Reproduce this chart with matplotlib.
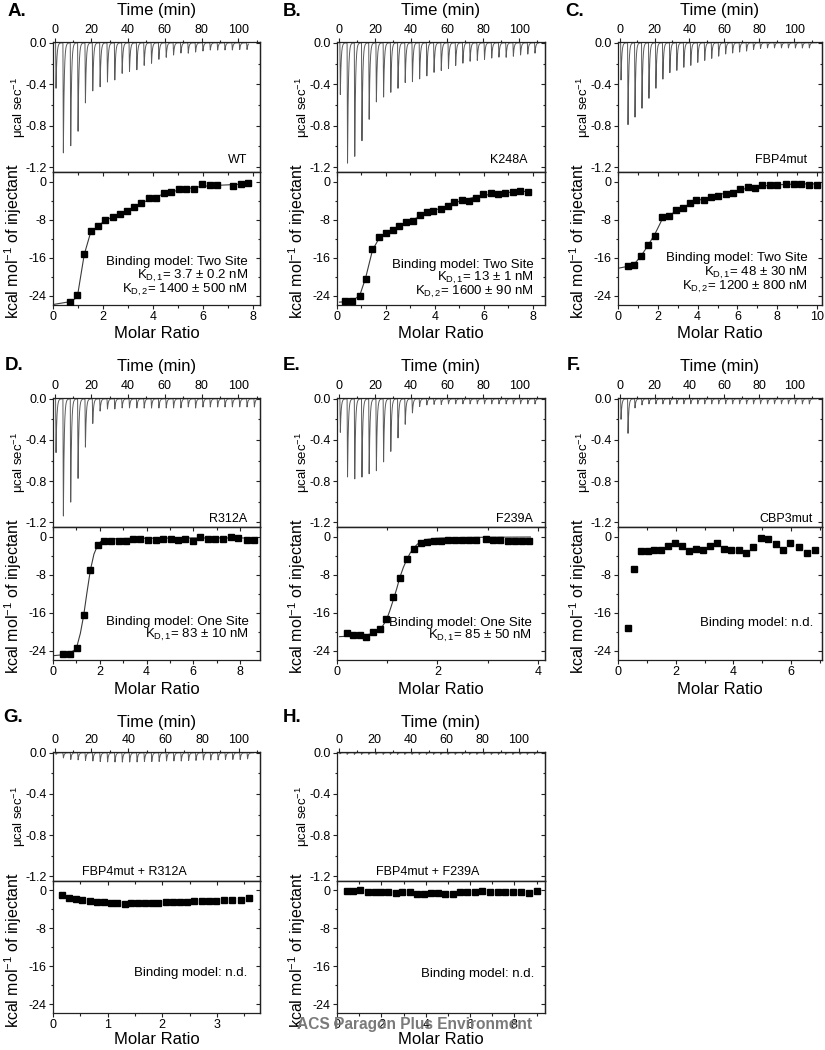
import numpy as np
import matplotlib
matplotlib.use('Agg')
import matplotlib.pyplot as plt
from matplotlib.ticker import MultipleLocator, FormatStrFormatter

plt.rcParams['font.family'] = ['Liberation Sans', 'DejaVu Sans']
plt.rcParams['mathtext.fontset'] = 'custom'
plt.rcParams['mathtext.rm'] = 'Liberation Sans'
plt.rcParams['mathtext.it'] = 'Liberation Sans:italic'
plt.rcParams['mathtext.bf'] = 'Liberation Sans:bold'
plt.rcParams['axes.unicode_minus'] = False

# ---------------- data ----------------
panel_letters = ["A.", "B.", "C.", "D.", "E.", "F.", "G.", "H."]
sample_names = ["WT", "K248A", "FBP4mut", "R312A", "F239A", "CBP3mut",
                "FBP4mut + R312A", "FBP4mut + F239A"]

# injection times (min)
inj_times = [0.5, 4.5, 8.5, 12.5, 16.5, 20.5, 24.5, 28.5, 32.5, 36.5, 40.5,
             44.5, 48.5, 52.5, 56.5, 60.5, 64.5, 68.5, 72.5, 76.5, 80.5, 84.5,
             88.5, 92.5, 96.5, 100.5, 104.5, 108.5]
trace_end = [105.5, 111, 113, 110, 112, 113, 108, 112]

# thermogram peak heights (ucal/sec)
peaks_A = [-0.44, -1.07, -1.01, -0.86, -0.58, -0.47, -0.43, -0.38, -0.36, -0.30,
           -0.28, -0.26, -0.22, -0.20, -0.16, -0.14, -0.12, -0.10, -0.10, -0.09,
           -0.08, -0.07, -0.07, -0.07, -0.07, -0.065, -0.065]
peaks_B = [-0.50, -1.18, -1.11, -0.95, -0.74, -0.58, -0.53, -0.48, -0.44, -0.39,
           -0.38, -0.35, -0.32, -0.29, -0.27, -0.25, -0.22, -0.20, -0.18, -0.17,
           -0.16, -0.15, -0.14, -0.14, -0.13, -0.12, -0.11, -0.10]
peaks_C = [-0.36, -0.80, -0.73, -0.64, -0.54, -0.44, -0.35, -0.29, -0.27, -0.24,
           -0.22, -0.19, -0.17, -0.15, -0.13, -0.11, -0.10, -0.09, -0.08, -0.065,
           -0.055, -0.05, -0.05, -0.05, -0.05, -0.05, -0.05, -0.05]
peaks_D = [-0.53, -1.16, -1.02, -0.78, -0.47, -0.24, -0.12, -0.10, -0.10, -0.09,
           -0.09, -0.09, -0.09, -0.09, -0.09, -0.09, -0.09, -0.09, -0.08, -0.09,
           -0.08, -0.08, -0.08, -0.08, -0.08, -0.08, -0.08, -0.08]
peaks_E = [-0.33, -0.77, -0.78, -0.77, -0.74, -0.70, -0.62, -0.52, -0.38, -0.25,
           -0.14, -0.075, -0.06, -0.055, -0.055, -0.05, -0.05, -0.05, -0.05, -0.05,
           -0.05, -0.05, -0.05, -0.05, -0.05, -0.05, -0.05, -0.05]
peaks_F = [-0.20, -0.34, -0.09, -0.06, -0.05, -0.05, -0.05, -0.055, -0.05, -0.05,
           -0.05, -0.05, -0.05, -0.05, -0.05, -0.05, -0.05, -0.05, -0.05, -0.05,
           -0.05, -0.05, -0.05, -0.05, -0.05, -0.05, -0.05, -0.05]
peaks_G = [-0.015, -0.05, -0.065, -0.07, -0.075, -0.08, -0.085, -0.09, -0.09, -0.09,
           -0.09, -0.09, -0.085, -0.085, -0.085, -0.08, -0.08, -0.08, -0.075, -0.075,
           -0.07, -0.07, -0.07, -0.065, -0.065, -0.065, -0.06, -0.06]
peaks_H = [-0.01, -0.015, -0.015, -0.015, -0.015, -0.015, -0.015, -0.015, -0.015, -0.015,
           -0.015, -0.015, -0.015, -0.015, -0.015, -0.015, -0.015, -0.015, -0.015, -0.015,
           -0.015, -0.015, -0.015, -0.015, -0.015, -0.015, -0.015, -0.015]

# integrated heats (kcal/mol of injectant) vs molar ratio
mr_A = [0.69, 0.97, 1.25, 1.51, 1.80, 2.08, 2.39, 2.67, 2.95, 3.25, 3.53, 3.84,
        4.13, 4.43, 4.72, 5.03, 5.33, 5.64, 5.95, 6.27, 6.56, 7.20, 7.50, 7.81]
dh_A = [-25.3, -23.9, -15.2, -10.4, -9.4, -8.05, -7.4, -6.8, -6.2, -5.3, -4.6, -3.5,
        -3.5, -2.4, -2.1, -1.6, -1.5, -1.5, -0.6, -0.8, -0.8, -1.0, -0.55, -0.4]
fit_x_A = [0.0, 0.69, 0.97, 1.25, 1.51, 1.80, 2.08, 2.39, 2.67, 2.95, 3.25, 3.53, 3.84,
           4.13, 4.43, 4.72, 5.03, 5.33, 5.64, 5.95, 6.27, 6.56, 7.20, 7.50, 7.81]
fit_y_A = [-25.8, -25.2, -24.3, -15.3, -10.6, -9.3, -8.2, -7.4, -6.8, -6.1, -5.3, -4.6,
           -3.8, -3.2, -2.6, -2.2, -1.8, -1.5, -1.3, -1.0, -0.9, -0.8, -0.65, -0.55, -0.5]

mr_B = [0.34, 0.63, 0.93, 1.17, 1.45, 1.72, 1.99, 2.27, 2.54, 2.81, 3.11, 3.38, 3.66,
        3.94, 4.23, 4.52, 4.79, 5.09, 5.38, 5.68, 5.98, 6.28, 6.58, 6.88, 7.18, 7.48, 7.79]
dh_B = [-25.0, -25.0, -24.0, -20.4, -14.1, -11.7, -10.7, -10.1, -9.4, -8.5, -8.2, -7.1,
        -6.4, -6.25, -5.8, -5.2, -4.2, -3.9, -4.1, -3.4, -2.6, -2.5, -2.6, -2.4, -2.3,
        -1.9, -2.2]
fit_x_B = [0.1, 0.34, 0.63, 0.93, 1.17, 1.45, 1.72, 1.99, 2.27, 2.54, 2.81, 3.11, 3.38,
           3.66, 3.94, 4.23, 4.52, 4.79, 5.09, 5.38, 5.68, 5.98, 6.28, 6.58, 6.88, 7.18,
           7.48, 7.79]
fit_y_B = [-25.3, -25.2, -25.0, -23.9, -20.2, -14.4, -11.9, -10.7, -10.0, -9.3, -8.6,
           -8.0, -7.3, -6.7, -6.1, -5.6, -5.1, -4.5, -4.0, -3.6, -3.2, -2.9, -2.7, -2.5,
           -2.35, -2.2, -2.1, -2.05]

mr_C = [0.49, 0.82, 1.16, 1.51, 1.88, 2.21, 2.56, 2.92, 3.27, 3.60, 3.94, 4.31, 4.67,
        5.03, 5.41, 5.76, 6.13, 6.52, 6.88, 7.25, 7.64, 8.01, 8.43, 8.83, 9.20, 9.60, 10.0]
dh_C = [-17.8, -17.6, -15.7, -13.3, -11.5, -7.5, -7.2, -6.0, -5.5, -4.55, -3.8, -3.9,
        -3.2, -3.0, -2.6, -2.5, -1.6, -1.25, -1.45, -0.75, -0.7, -0.75, -0.55, -0.55,
        -0.5, -0.7, -0.7]
fit_x_C = [0.0, 0.49, 0.82, 1.16, 1.51, 1.88, 2.21, 2.56, 2.92, 3.27, 3.60, 3.94, 4.31,
           4.67, 5.03, 5.41, 5.76, 6.13, 6.52, 6.88, 7.25, 7.64, 8.01, 8.43, 8.83, 9.20,
           9.60, 10.0]
fit_y_C = [-18.2, -17.8, -17.3, -15.6, -13.4, -10.8, -8.0, -7.1, -6.2, -5.4, -4.7, -4.1,
           -3.6, -3.2, -2.8, -2.4, -2.1, -1.7, -1.4, -1.15, -0.95, -0.8, -0.7, -0.6,
           -0.55, -0.5, -0.5, -0.5]

mr_D = [0.43, 0.71, 1.03, 1.31, 1.60, 1.91, 2.20, 2.50, 2.81, 3.13, 3.43, 3.74, 4.07,
        4.39, 4.70, 5.03, 5.34, 5.64, 5.97, 6.30, 6.61, 6.94, 7.27, 7.60, 7.93, 8.29, 8.61]
dh_D = [-24.7, -24.7, -23.3, -16.5, -6.95, -1.85, -1.0, -1.0, -0.85, -1.0, -0.57, -0.57,
        -0.7, -0.7, -0.57, -0.57, -0.78, -0.5, -0.92, -0.14, -0.43, -0.43, -0.43, 0.0,
        -0.28, -0.64, -0.64]
fit_x_D = [0.0, 0.43, 0.71, 0.90, 1.03, 1.17, 1.31, 1.45, 1.60, 1.75, 1.91, 2.05, 2.20,
           2.50, 3.00, 4.00, 6.00, 8.61]
fit_y_D = [-25.0, -24.8, -24.4, -23.9, -22.9, -20.3, -16.6, -11.8, -7.0, -3.7, -1.8,
           -1.0, -0.7, -0.5, -0.4, -0.35, -0.3, -0.3]

mr_E = [0.19, 0.32, 0.45, 0.58, 0.72, 0.85, 0.98, 1.12, 1.25, 1.39, 1.53, 1.67, 1.80,
        1.94, 2.07, 2.21, 2.34, 2.48, 2.62, 2.76, 2.96, 3.10, 3.24, 3.40, 3.54, 3.69, 3.83]
dh_E = [-20.3, -20.7, -20.7, -21.0, -20.0, -19.3, -17.2, -12.7, -8.8, -4.8, -2.55, -1.4,
        -1.06, -0.85, -0.85, -0.7, -0.7, -0.7, -0.7, -0.7, -0.5, -0.64, -0.64, -1.0,
        -1.0, -1.0, -0.85]
fit_x_E = [0.05, 0.45, 0.65, 0.78, 0.90, 0.98, 1.05, 1.12, 1.19, 1.25, 1.32, 1.39, 1.46,
           1.53, 1.60, 1.67, 1.80, 2.00, 2.50, 3.00, 3.85]
fit_y_E = [-21.0, -20.8, -20.5, -20.0, -18.9, -17.6, -15.6, -13.3, -10.9, -8.6, -6.5,
           -4.8, -3.4, -2.4, -1.6, -1.1, -0.6, -0.35, -0.2, -0.15, -0.1]

mr_F = [0.33, 0.57, 0.80, 1.03, 1.26, 1.50, 1.74, 1.97, 2.21, 2.46, 2.70, 2.94, 3.18,
        3.43, 3.67, 3.92, 4.18, 4.43, 4.68, 4.95, 5.20, 5.46, 5.71, 5.96, 6.26, 6.55, 6.83]
dh_F = [-19.2, -6.8, -3.0, -3.1, -2.8, -2.8, -2.0, -1.4, -1.9, -3.0, -2.7, -2.8, -1.9,
        -1.3, -2.7, -2.8, -2.8, -3.4, -2.2, -0.3, -0.6, -1.5, -2.9, -1.3, -2.3, -3.4, -2.8]

mr_G = [0.17, 0.29, 0.42, 0.54, 0.67, 0.80, 0.93, 1.06, 1.18, 1.31, 1.42, 1.55, 1.68,
        1.81, 1.93, 2.07, 2.20, 2.32, 2.45, 2.59, 2.72, 2.86, 2.99, 3.13, 3.28, 3.44, 3.59]
dh_G = [-0.9, -1.5, -1.9, -2.1, -2.2, -2.4, -2.4, -2.6, -2.6, -2.8, -2.7, -2.7, -2.6,
        -2.6, -2.6, -2.5, -2.5, -2.4, -2.4, -2.3, -2.2, -2.2, -2.15, -2.1, -2.0, -1.95, -1.6]

mr_H = [0.44, 0.74, 1.05, 1.38, 1.70, 2.00, 2.32, 2.64, 2.95, 3.27, 3.59, 3.92, 4.24,
        4.56, 4.89, 5.22, 5.56, 5.88, 6.21, 6.55, 6.89, 7.24, 7.59, 7.94, 8.29, 8.65, 9.02]
dh_H = [-0.15, -0.15, 0.05, -0.3, -0.3, -0.4, -0.4, -0.55, -0.4, -0.4, -0.65, -0.65,
        -0.5, -0.55, -0.65, -0.65, -0.35, -0.35, -0.35, -0.2, -0.35, -0.35, -0.35, -0.35,
        -0.35, -0.5, -0.07]

model_texts = [
    ["Binding model: Two Site", r"K$_{\mathrm{D,1}}$= 3.7 ± 0.2 nM", r"K$_{\mathrm{D,2}}$= 1400 ± 500 nM"],
    ["Binding model: Two Site", r"K$_{\mathrm{D,1}}$= 13 ± 1 nM", r"K$_{\mathrm{D,2}}$= 1600 ± 90 nM"],
    ["Binding model: Two Site", r"K$_{\mathrm{D,1}}$= 48 ± 30 nM", r"K$_{\mathrm{D,2}}$= 1200 ± 800 nM"],
    ["Binding model: One Site", r"K$_{\mathrm{D,1}}$= 83 ± 10 nM"],
    ["Binding model: One Site", r"K$_{\mathrm{D,1}}$= 85 ± 50 nM"],
    ["Binding model: n.d."],
    ["Binding model: n.d."],
    ["Binding model: n.d."],
]

# ---------------- layout (pixels) ----------------
W, H = 825, 1050
fig = plt.figure(figsize=(8.25, 10.5), dpi=100)

cols = [(53, 260), (337, 545), (618, 822)]
rows = [(42, 172, 305), (398, 527, 660), (752, 881, 1013)]
pos = [(0, 0), (0, 1), (0, 2), (1, 0), (1, 1), (1, 2), (2, 0), (2, 1)]

t_lims = [(-0.9, 111.8), (-1.1, 114.3), (-1.0, 116.0), (-0.9, 111.8),
          (-1.1, 114.3), (-1.0, 116.0), (-0.9, 111.5), (-0.9, 114.6)]
m_lims = [(0, 8.28), (0, 8.5), (0, 10.25), (0, 8.85), (0, 4.14), (0, 7.07), (0, 3.79), (0, 9.38)]
m_steps = [2, 2, 2, 2, 2, 2, 1, 2]

peaks_all = [peaks_A, peaks_B, peaks_C, peaks_D, peaks_E, peaks_F, peaks_G, peaks_H]
mr_all = [mr_A, mr_B, mr_C, mr_D, mr_E, mr_F, mr_G, mr_H]
dh_all = [dh_A, dh_B, dh_C, dh_D, dh_E, dh_F, dh_G, dh_H]
fits = [(fit_x_A, fit_y_A), (fit_x_B, fit_y_B), (fit_x_C, fit_y_C), (fit_x_D, fit_y_D),
        (fit_x_E, fit_y_E), None, None, None]

name_pos = [(0.937, 0.092), (0.918, 0.092), (0.926, 0.092), (0.937, 0.062),
            (0.94, 0.062), (0.956, 0.062), (0.647, 0.07), (0.684, 0.07)]
model_pos = [(0.942, [0.323, 0.218, 0.113]), (0.947, [0.30, 0.203, 0.098]),
             (0.931, [0.353, 0.24, 0.135]), (0.947, [0.286, 0.188]),
             (0.937, [0.278, 0.18]), (0.956, [0.278]), (0.937, [0.303]), (0.947, [0.295])]
letter_px = [(8, 12), (283, 12), (565, 12), (5, 366), (283, 366), (567, 366), (3, 718), (283, 718)]
time_label_y = [11, 367, 722]
molar_label_y = [333, 690, 1040]

SPINE = '#222222'
TICK_FS = 9


def rect(x0, x1, y0, y1):
    return [x0 / W, 1 - y1 / H, (x1 - x0) / W, (y1 - y0) / H]


def style_spines(ax):
    for s in ax.spines.values():
        s.set_linewidth(0.9)
        s.set_color(SPINE)


def thermogram(times, heights, t_end):
    t = np.linspace(0, t_end, 8000)
    y = np.zeros_like(t)
    for ti, h in zip(times, heights):
        dt = t - ti
        drop = (dt >= 0) & (dt < 0.25)
        rec = dt >= 0.25
        y[drop] += h * dt[drop] / 0.25
        y[rec] += h * np.exp(-(dt[rec] - 0.25) / 0.45)
    return t, y


for i in range(8):
    r, c = pos[i]
    x0, x1 = cols[c]
    ytop, ysep, ybot = rows[r]
    wpx = x1 - x0

    # ---- thermogram ----
    axt = fig.add_axes(rect(x0, x1, ytop, ysep))
    style_spines(axt)
    n = len(peaks_all[i])
    tt, yy = thermogram(inj_times[:n], peaks_all[i], trace_end[i])
    axt.plot(tt, yy, color='#5a5a5a', lw=0.7)
    axt.set_xlim(*t_lims[i])
    axt.set_ylim(-1.246, 0.008)
    axt.xaxis.tick_top()
    axt.xaxis.set_major_locator(MultipleLocator(20))
    axt.xaxis.set_minor_locator(MultipleLocator(10))
    axt.yaxis.set_major_locator(MultipleLocator(0.4))
    axt.yaxis.set_minor_locator(MultipleLocator(0.2))
    axt.yaxis.set_major_formatter(FormatStrFormatter('%.1f'))
    axt.tick_params(which='both', direction='out', labelsize=TICK_FS, pad=1.5,
                    color=SPINE, width=0.8)
    axt.tick_params(which='major', length=3)
    axt.tick_params(which='minor', length=1.8)
    sec = axt.secondary_yaxis('right')
    sec.yaxis.set_major_locator(MultipleLocator(0.4))
    sec.yaxis.set_minor_locator(MultipleLocator(0.2))
    sec.tick_params(which='both', direction='in', labelright=False, color=SPINE, width=0.8)
    sec.tick_params(which='major', length=3)
    sec.tick_params(which='minor', length=1.8)
    sec.spines['right'].set_linewidth(0.9)
    sec.spines['right'].set_color(SPINE)
    axt.text(-34.0 / wpx, 0.5, r'$\mathregular{\mu}$cal sec$^{\mathregular{-1}}$',
             transform=axt.transAxes, rotation=90, ha='center', va='center', fontsize=9.5)
    axt.text(name_pos[i][0], name_pos[i][1], sample_names[i], transform=axt.transAxes,
             ha='right', va='center', fontsize=9)

    # ---- binding isotherm ----
    axb = fig.add_axes(rect(x0, x1, ysep, ybot))
    style_spines(axb)
    if fits[i] is not None:
        axb.plot(fits[i][0], fits[i][1], color='#3a3a3a', lw=0.8, zorder=2)
    axb.plot(mr_all[i], dh_all[i], 's', color='black', ms=4.3, zorder=3)
    axb.set_xlim(*m_lims[i])
    axb.set_ylim(-25.9, 2.0)
    axb.xaxis.set_major_locator(MultipleLocator(m_steps[i]))
    axb.xaxis.set_minor_locator(MultipleLocator(m_steps[i] / 2))
    axb.yaxis.set_major_locator(MultipleLocator(8))
    axb.yaxis.set_minor_locator(MultipleLocator(4))
    axb.tick_params(which='both', direction='out', labelsize=TICK_FS, pad=1.5,
                    color=SPINE, width=0.8)
    axb.tick_params(axis='x', which='both', pad=1.0)
    axb.tick_params(which='major', length=3)
    axb.tick_params(which='minor', length=1.8)
    for side in ('right', 'top'):
        if side == 'right':
            s2 = axb.secondary_yaxis('right')
            s2.yaxis.set_major_locator(MultipleLocator(8))
            s2.yaxis.set_minor_locator(MultipleLocator(4))
            s2.tick_params(which='both', direction='in', labelright=False, color=SPINE, width=0.8)
        else:
            s2 = axb.secondary_xaxis('top')
            s2.xaxis.set_major_locator(MultipleLocator(m_steps[i]))
            s2.xaxis.set_minor_locator(MultipleLocator(m_steps[i] / 2))
            s2.tick_params(which='both', direction='in', labeltop=False, color=SPINE, width=0.8)
        s2.tick_params(which='major', length=3)
        s2.tick_params(which='minor', length=1.8)
        s2.spines[side].set_linewidth(0.9)
        s2.spines[side].set_color(SPINE)
    axb.text(-40.0 / wpx, 0.48, r'kcal mol$^{\mathregular{-1}}$ of injectant',
             transform=axb.transAxes, rotation=90, ha='center', va='center', fontsize=11.5)
    mx, mys = model_pos[i]
    for txt, my in zip(model_texts[i], mys):
        axb.text(mx, my, txt, transform=axb.transAxes, ha='right', va='center', fontsize=9.5)

    # ---- titles / letters ----
    xc = (x0 + x1) / 2
    fig.text(xc / W, 1 - time_label_y[r] / H, 'Time (min)', ha='center', va='center', fontsize=12)
    fig.text(xc / W, 1 - molar_label_y[r] / H, 'Molar Ratio', ha='center', va='center', fontsize=12)
    lx, ly = letter_px[i]
    fig.text(lx / W, 1 - ly / H, panel_letters[i], ha='left', va='center',
             fontsize=13.5, fontweight='bold')

fig.text(415 / W, 1 - 1024 / H, 'ACS Paragon Plus Environment', ha='center', va='center',
         fontsize=11.2, fontweight='bold', color='#7a7a7a', zorder=10)

fig.savefig('out.png', dpi=100)
